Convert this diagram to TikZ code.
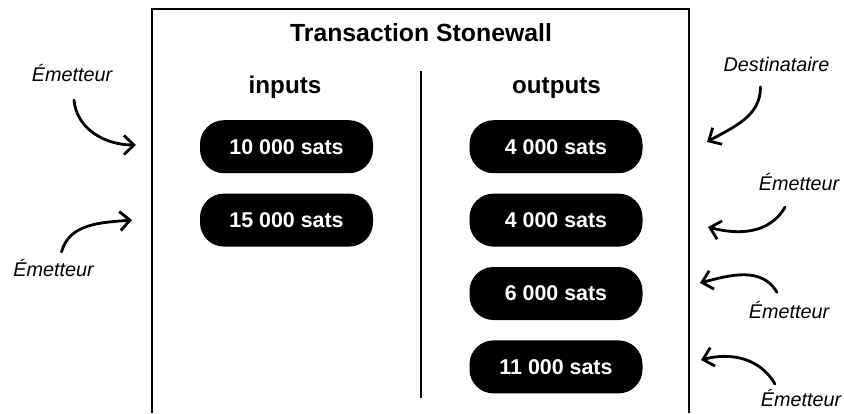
\documentclass[tikz,border=0pt]{standalone}
\usepackage{fontspec}
\setmainfont{Liberation Sans}
\usetikzlibrary{arrows.meta,positioning}

\begin{document}
\begin{tikzpicture}[
		x=1pt, y=1pt,
		node distance=20pt,
		title/.style={font=\bfseries\fontsize{24.8}{28}\selectfont, anchor=base, inner sep=0pt},
		head/.style={font=\bfseries\fontsize{24.2}{28}\selectfont, anchor=base, inner sep=0pt},
		sats/.style={fill=black, text=white, rounded corners=24pt, minimum width=173pt, minimum height=53pt, inner sep=0pt, font=\bfseries\fontsize{21.4}{24}\selectfont},
		who/.style={font=\itshape\fontsize{19.8}{22}\selectfont, anchor=base, inner sep=0pt, text height=14.5pt, text depth=0pt},
		curly/.style={-{Straight Barb[length=10pt,width=19pt]}, line width=2.8pt, line cap=round, line join=round}
	]
		\useasboundingbox (0,0) rectangle (844,-413);
		\draw[line width=1.6pt] (152,-413) -- (152,-9) -- (689,-9) -- (689,-413);
		\draw[line width=2.6pt] (421,-71) -- (421,-398);
		\node[title] (tx) at (421,-41.5) {Transaction Stonewall};
		\node[head] (inputs) at (285,-93) {inputs};
		\node[head] (outputs) at (556.5,-93) {outputs};
		\node[sats] (in1) at (286.5,-146.7) {10 000 sats};
		\node[sats, below=of in1] (in2) {15 000 sats};
		\node[sats] (out1) at (556,-146.7) {4 000 sats};
		\node[sats, below=of out1] (out2) {4 000 sats};
		\node[sats, below=of out2] (out3) {6 000 sats};
		\node[sats, below=of out3] (out4) {11 000 sats};
		\node[who] (from1) at (72,-81.7) {Émetteur};
		\node[who] (from2) at (53.5,-276.7) {Émetteur};
		\node[who] (dest) at (776.5,-71.7) {Destinataire};
		\node[who] (from3) at (799,-190) {Émetteur};
		\node[who] (from4) at (789,-318) {Émetteur};
		\node[who] (from5) at (801,-406.7) {Émetteur};
		\coordinate (t1) at (136,-145);
		\coordinate (t2) at (132,-220);
		\coordinate (t3) at (707,-142);
		\coordinate (t4) at (708,-227);
		\coordinate (t5) at (700,-283);
		\coordinate (t6) at (701,-360);
		\draw[curly] ([shift={(2pt,-18pt)}]from1.south) to[out=-85,in=180] (t1);
		\draw[curly] ([shift={(8pt,10pt)}]from2.north) to[out=75,in=185] (t2);
		\draw[curly] ([shift={(-16pt,-15pt)}]dest.south) to[out=-90,in=30] (t3);
		\draw[curly] ([shift={(-14pt,-17pt)}]from3.south) to[out=-120,in=-15] (t4);
		\draw[curly] ([shift={(-12pt,11pt)}]from4.north) to[out=120,in=15] (t5);
		\draw[curly] ([shift={(-26pt,8pt)}]from5.north) to[out=120,in=15] (t6);
	\end{tikzpicture}
\end{document}
